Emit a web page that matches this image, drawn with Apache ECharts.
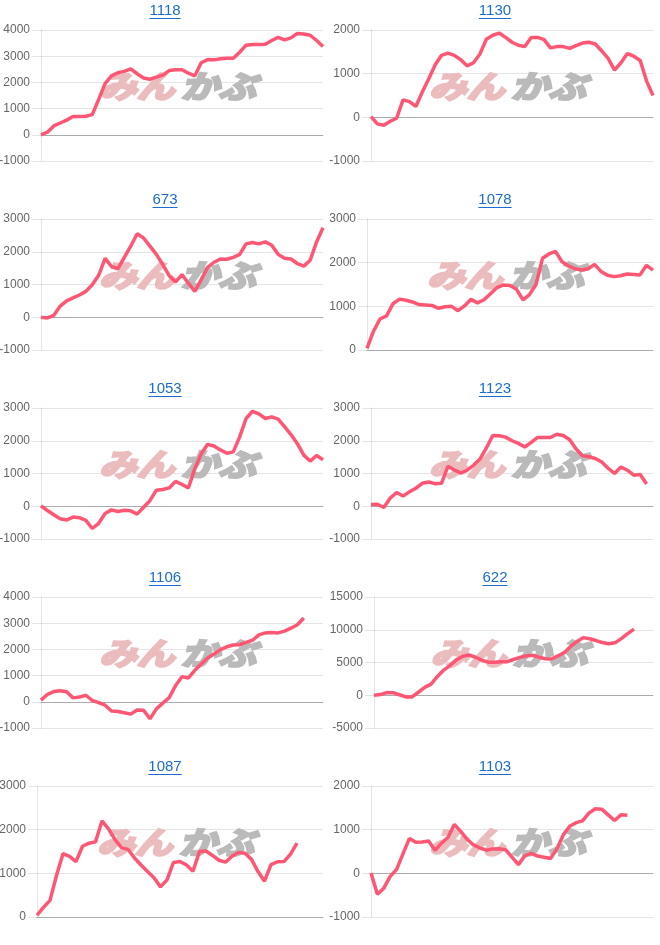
<!DOCTYPE html>
<html><head><meta charset="utf-8">
<script src="https://cdn.jsdelivr.net/npm/echarts@6/dist/echarts.min.js"></script>
<style>html,body{margin:0;padding:0;background:#fff}#c{width:660px;height:945px}</style>
</head><body><div id="c"></div>
<script>
// ---- data ----
const categories = Array.from({length: 45}, (_, i) => String(i + 1));
const titles = ['1118', '1130', '673', '1078', '1053', '1123', '1106', '622', '1087', '1103'];

const s1118 = [0,100,340,450,560,700,700,710,770,1350,1950,2250,2370,2420,2520,2330,2170,2120,2200,2280,2450,2480,2480,2350,2250,2750,2870,2860,2900,2920,2920,3150,3420,3450,3450,3460,3600,3720,3620,3700,3870,3850,3800,3600,3370];
const s1130 = [15,-150,-180,-90,-20,400,360,250,580,880,1200,1420,1470,1420,1320,1180,1250,1450,1790,1880,1930,1830,1720,1650,1620,1830,1830,1780,1590,1620,1620,1580,1640,1700,1720,1680,1520,1350,1080,1250,1460,1400,1300,830,500];
const s673  = [0,-20,60,340,500,590,680,790,990,1280,1800,1550,1480,1830,2170,2550,2420,2170,1920,1610,1270,1080,1300,1040,790,1150,1520,1680,1780,1770,1830,1920,2240,2280,2240,2300,2200,1920,1800,1780,1640,1560,1740,2300,2730];
const s1078 = [40,430,710,780,1060,1165,1140,1100,1040,1030,1020,955,990,1000,900,1010,1160,1080,1150,1290,1430,1490,1480,1390,1150,1270,1500,2100,2200,2260,2020,1930,1860,1830,1860,1960,1800,1710,1680,1700,1740,1730,1720,1940,1830];
const s1053 = [10,-130,-260,-380,-420,-330,-350,-430,-680,-520,-220,-110,-160,-120,-140,-240,-30,170,490,510,560,760,665,560,1150,1600,1890,1840,1720,1620,1660,2120,2680,2900,2820,2680,2730,2660,2430,2190,1910,1560,1380,1550,1420];
const s1123 = [50,60,-40,250,420,310,440,550,700,740,690,700,1220,1110,1010,1100,1250,1440,1780,2160,2150,2110,2000,1920,1810,1950,2100,2100,2100,2200,2160,2030,1750,1540,1510,1460,1350,1160,1000,1200,1100,950,970,680,null];
const s1106 = [65,280,390,420,380,150,180,250,50,-30,-130,-350,-370,-420,-470,-310,-320,-650,-270,-50,160,620,960,910,1200,1440,1670,1820,1990,2100,2170,2180,2270,2350,2555,2630,2645,2630,2700,2810,2940,3200,null,null,null];
const s622  = [0,100,410,400,80,-255,-255,460,1200,1700,2870,3840,4570,5400,5960,6150,5800,5350,5050,5050,5120,5120,5460,5780,6000,6100,5810,5570,5540,6000,6500,7450,8190,8800,8620,8350,8060,7850,8000,8650,9400,10100,null,null,null];
const s1087 = [40,220,380,950,1450,1390,1270,1620,1690,1720,2200,2020,1770,1590,1550,1350,1190,1040,900,690,850,1250,1270,1190,1050,1500,1510,1410,1300,1255,1390,1480,1460,1320,1040,820,1200,1265,1270,1440,1690,null,null,null,null];
const s1103 = [10,-480,-340,-70,90,450,800,710,720,740,525,690,820,1120,960,780,650,580,530,560,565,540,370,200,400,460,395,370,340,560,880,1080,1160,1200,1380,1480,1470,1340,1210,1340,1330,null,null,null,null];

const ticks1118 = [-1000, 0, 1000, 2000, 3000, 4000];
const ticks1130 = [-1000, 0, 1000, 2000];
const ticks673  = [-1000, 0, 1000, 2000, 3000];
const ticks1078 = [0, 1000, 2000, 3000];
const ticks1053 = [-1000, 0, 1000, 2000, 3000];
const ticks1123 = [-1000, 0, 1000, 2000, 3000];
const ticks1106 = [-1000, 0, 1000, 2000, 3000, 4000];
const ticks622  = [-5000, 0, 5000, 10000, 15000];
const ticks1087 = [0, 1000, 2000, 3000];
const ticks1103 = [-1000, 0, 1000, 2000];

const watermarkPink = 'みん';
const watermarkGray = 'かぶ';

// ---- layout / style ----
const seriesList = [s1118, s1130, s673, s1078, s1053, s1123, s1106, s622, s1087, s1103];
const tickList = [ticks1118, ticks1130, ticks673, ticks1078, ticks1053, ticks1123, ticks1106, ticks622, ticks1087, ticks1103];
const gridBox = [
  {left: 41, width: 282}, {left: 371, width: 282},
  {left: 41, width: 282}, {left: 367, width: 286},
  {left: 41, width: 282}, {left: 371, width: 282},
  {left: 41, width: 282}, {left: 374, width: 279},
  {left: 37, width: 286}, {left: 371, width: 282}
];
const ROW = 189, TOP0 = 30, GH = 131;
const LINE = 'rgb(255,86,115)';
const GRID = 'rgba(0,0,0,0.1)';
const ZERO = 'rgba(0,0,0,0.25)';
const FONT = '"Liberation Sans", Arial, Helvetica, sans-serif';
const TITLE_COLOR = '#1a6dcc';

const ctx = document.createElement('canvas').getContext('2d');
ctx.font = '15px "Liberation Sans"';

const grids = [], xAxes = [], yAxes = [], series = [], graphics = [];
seriesList.forEach((data, k) => {
  const row = Math.floor(k / 2), col = k % 2;
  const top = TOP0 + row * ROW;
  const g = gridBox[k];
  const t = tickList[k];
  grids.push({left: g.left, top: top, width: g.width, height: GH, containLabel: false, outerBoundsMode: 'none'});
  xAxes.push({
    gridIndex: k, type: 'category', data: categories, boundaryGap: false,
    axisLabel: {show: false}, axisTick: {show: false}, splitLine: {show: false},
    axisLine: {show: true, onZero: true, lineStyle: {color: ZERO, width: 1}}
  });
  yAxes.push({
    gridIndex: k, type: 'value', min: t[0], max: t[t.length - 1], interval: t[1] - t[0],
    axisLabel: {color: '#666', fontSize: 12, fontFamily: FONT, margin: 11, formatter: v => String(v)},
    axisLine: {show: true, lineStyle: {color: GRID, width: 1}},
    axisTick: {show: true, length: 9, lineStyle: {color: GRID}},
    splitLine: {show: true, lineStyle: {color: GRID, width: 1}}
  });
  series.push({
    type: 'line', xAxisIndex: k, yAxisIndex: k, data: data,
    showSymbol: false, symbol: 'none', smooth: false, connectNulls: false,
    lineStyle: {color: LINE, width: 3.5}, z: 5, silent: true
  });
  // title with underline
  const cx = col === 0 ? 165 : 495;
  const ty = 11 + row * ROW;
  const w = ctx.measureText(titles[k]).width;
  graphics.push({
    type: 'text', x: cx, y: ty, z: 10,
    style: {text: titles[k], fill: TITLE_COLOR, font: '15px ' + FONT,
            align: 'center', verticalAlign: 'middle', textAlign: 'center', textVerticalAlign: 'middle'}
  });
  graphics.push({
    type: 'rect', x: cx - w / 2, y: ty + 7, z: 10,
    shape: {width: w, height: 1}, style: {fill: TITLE_COLOR}
  });
  // watermark
  const wx = g.left + g.width / 2 - 5, wy = top + GH / 2 - 9;
  const wmFont = 'italic bold 31px "Noto Sans CJK JP"';
  graphics.push({
    type: 'group', x: wx, y: wy, scaleX: 1.22, z: 1,
    children: [
      {type: 'text', x: -2, y: 0, z: 1, style: {text: watermarkPink, fill: '#ebbcbe',
        stroke: '#ebbcbe', lineWidth: 2.5,
        font: wmFont, align: 'right', verticalAlign: 'middle',
        textAlign: 'right', textVerticalAlign: 'middle'}},
      {type: 'text', x: 3, y: 0, z: 1, style: {text: watermarkGray, fill: '#bababa',
        stroke: '#bababa', lineWidth: 2.5,
        font: wmFont, align: 'left', verticalAlign: 'middle',
        textAlign: 'left', textVerticalAlign: 'middle'}}
    ]
  });
});

const chart = echarts.init(document.getElementById('c'), null, {renderer: 'canvas'});
chart.setOption({
  animation: false,
  backgroundColor: '#fff',
  grid: grids, xAxis: xAxes, yAxis: yAxes, series: series,
  graphic: {elements: graphics}
});
</script></body></html>
